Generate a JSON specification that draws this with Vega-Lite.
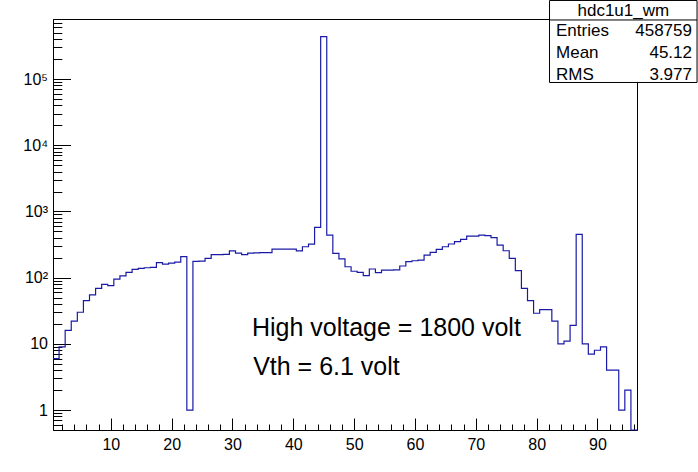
{
  "$schema": "https://vega.github.io/schema/vega-lite/v6.json",
  "width": 584,
  "height": 411,
  "autosize": "none",
  "padding": {"left": 53, "top": 19, "right": 61, "bottom": 42},
  "background": "white",
  "config": {
    "view": {"stroke": "#000000", "strokeWidth": 1},
    "font": "Liberation Sans",
    "axis": {"labelFont": "Liberation Sans", "labelColor": "#000000", "tickColor": "#000000", "domainColor": "#000000", "grid": false, "title": null, "labelFontSize": 16}
  },
  "datasets": {
    "hist": [
      {"edge": 0.5, "count": 6}, {"edge": 1.5, "count": 9}, {"edge": 2.5, "count": 16}, {"edge": 3.5, "count": 22},
      {"edge": 4.5, "count": 30}, {"edge": 5.5, "count": 45}, {"edge": 6.5, "count": 55}, {"edge": 7.5, "count": 69},
      {"edge": 8.5, "count": 79}, {"edge": 9.5, "count": 76}, {"edge": 10.5, "count": 95}, {"edge": 11.5, "count": 106},
      {"edge": 12.5, "count": 120}, {"edge": 13.5, "count": 133}, {"edge": 14.5, "count": 138}, {"edge": 15.5, "count": 141},
      {"edge": 16.5, "count": 143}, {"edge": 17.5, "count": 169}, {"edge": 18.5, "count": 160}, {"edge": 19.5, "count": 166},
      {"edge": 20.5, "count": 171}, {"edge": 21.5, "count": 207}, {"edge": 22.5, "count": 1}, {"edge": 23.5, "count": 176},
      {"edge": 24.5, "count": 178}, {"edge": 25.5, "count": 195}, {"edge": 26.5, "count": 222}, {"edge": 27.5, "count": 222},
      {"edge": 28.5, "count": 224}, {"edge": 29.5, "count": 254}, {"edge": 30.5, "count": 235}, {"edge": 31.5, "count": 222},
      {"edge": 32.5, "count": 234}, {"edge": 33.5, "count": 236}, {"edge": 34.5, "count": 238}, {"edge": 35.5, "count": 238},
      {"edge": 36.5, "count": 270}, {"edge": 37.5, "count": 270}, {"edge": 38.5, "count": 270}, {"edge": 39.5, "count": 270},
      {"edge": 40.5, "count": 254}, {"edge": 41.5, "count": 293}, {"edge": 42.5, "count": 320}, {"edge": 43.5, "count": 575},
      {"edge": 44.5, "count": 436000}, {"edge": 45.5, "count": 440}, {"edge": 46.5, "count": 233}, {"edge": 47.5, "count": 192},
      {"edge": 48.5, "count": 146}, {"edge": 49.5, "count": 125}, {"edge": 50.5, "count": 120}, {"edge": 51.5, "count": 107},
      {"edge": 52.5, "count": 135}, {"edge": 53.5, "count": 119}, {"edge": 54.5, "count": 130}, {"edge": 55.5, "count": 130},
      {"edge": 56.5, "count": 131}, {"edge": 57.5, "count": 150}, {"edge": 58.5, "count": 174}, {"edge": 59.5, "count": 180},
      {"edge": 60.5, "count": 184}, {"edge": 61.5, "count": 219}, {"edge": 62.5, "count": 241}, {"edge": 63.5, "count": 268},
      {"edge": 64.5, "count": 293}, {"edge": 65.5, "count": 322}, {"edge": 66.5, "count": 349}, {"edge": 67.5, "count": 379},
      {"edge": 68.5, "count": 425}, {"edge": 69.5, "count": 425}, {"edge": 70.5, "count": 440}, {"edge": 71.5, "count": 430},
      {"edge": 72.5, "count": 403}, {"edge": 73.5, "count": 310}, {"edge": 74.5, "count": 255}, {"edge": 75.5, "count": 196},
      {"edge": 76.5, "count": 128}, {"edge": 77.5, "count": 69}, {"edge": 78.5, "count": 45}, {"edge": 79.5, "count": 29},
      {"edge": 80.5, "count": 33}, {"edge": 81.5, "count": 33}, {"edge": 82.5, "count": 22}, {"edge": 83.5, "count": 10},
      {"edge": 84.5, "count": 11}, {"edge": 85.5, "count": 19}, {"edge": 86.5, "count": 451}, {"edge": 87.5, "count": 10},
      {"edge": 88.5, "count": 7}, {"edge": 89.5, "count": 8}, {"edge": 90.5, "count": 9}, {"edge": 91.5, "count": 4},
      {"edge": 92.5, "count": 4}, {"edge": 93.5, "count": 1}, {"edge": 94.5, "count": 2}, {"edge": 95.5, "count": 0},
      {"edge": 96.5, "count": 0}
    ],
    "one": [{}]
  },
  "layer": [
    {
      "layer": [
        {
          "data": {"name": "hist"},
          "mark": {"type": "line", "interpolate": "step-after", "color": "#1a1aa6", "strokeWidth": 1.2, "invalid": "show"},
          "encoding": {
            "x": {"field": "edge", "type": "quantitative",
                  "scale": {"domain": [0.5, 96.5], "nice": false, "zero": false},
                  "axis": {"orient": "bottom", "values": [10, 20, 30, 40, 50, 60, 70, 80, 90], "tickSize": -12, "labelPadding": 18, "domain": true}},
            "y": {"field": "count", "type": "quantitative",
                  "scale": {"type": "log", "domain": [0.5, 806000], "nice": false, "clamp": true},
                  "axis": {"orient": "left", "values": [1, 10, 100, 1000, 10000, 100000], "tickSize": -17.5, "labelPadding": 23,
                           "labelExpr": "datum.value == 1 ? '1' : datum.value == 10 ? '10' : datum.value == 100 ? '10²' : datum.value == 1000 ? '10³' : datum.value == 10000 ? '10⁴' : '10⁵'"}}
          }
        },
        {
          "data": {"name": "hist"},
          "mark": {"type": "line", "strokeOpacity": 0, "invalid": "show"},
          "encoding": {
            "x": {"field": "edge", "type": "quantitative",
                  "axis": {"orient": "bottom", "values": [2,4,6,8,12,14,16,18,22,24,26,28,32,34,36,38,42,44,46,48,52,54,56,58,62,64,66,68,72,74,76,78,82,84,86,88,92,94,96], "tickSize": -6, "labels": false, "domain": false}},
            "y": {"field": "count", "type": "quantitative",
                  "axis": {"orient": "left", "values": [0.5,0.6,0.7,0.8,0.9,2,3,4,5,6,7,8,9,20,30,40,50,60,70,80,90,200,300,400,500,600,700,800,900,2000,3000,4000,5000,6000,7000,8000,9000,20000,30000,40000,50000,60000,70000,80000,90000,200000,300000,400000,500000,600000,700000,800000], "tickSize": -8.8, "labels": false, "domain": false}}
          }
        }
      ],
      "resolve": {"axis": {"x": "independent", "y": "independent"}}
    },
    {
      "data": {"name": "one"},
      "encoding": {
        "y": {"type": "quantitative", "scale": {"type": "log", "domain": [0.5, 806000], "nice": false, "clamp": false}, "axis": null}
      },
      "layer": [
        {
          "mark": {"type": "text", "text": "High voltage = 1800 volt", "align": "left", "baseline": "alphabetic", "fontSize": 25, "font": "Liberation Sans", "color": "#000000"},
          "encoding": {"x": {"datum": 33.2, "type": "quantitative", "axis": null}, "y": {"datum": 13.1, "type": "quantitative", "scale": {"type": "log", "domain": [0.5, 806000], "nice": false}, "axis": null}}
        },
        {
          "mark": {"type": "text", "text": "Vth = 6.1 volt", "align": "left", "baseline": "alphabetic", "fontSize": 25, "font": "Liberation Sans", "color": "#000000"},
          "encoding": {"x": {"datum": 33.4, "type": "quantitative", "axis": null}, "y": {"datum": 3.38, "type": "quantitative", "axis": null}}
        },
        {
          "mark": {"type": "rect", "fill": "#ffffff", "stroke": "#000000", "strokeWidth": 1},
          "encoding": {"x": {"datum": 82.12, "type": "quantitative", "axis": null}, "x2": {"datum": 106.37},
                       "y": {"datum": 1535000, "type": "quantitative", "axis": null}, "y2": {"datum": 88600}}
        },
        {
          "mark": {"type": "rule", "stroke": "#000000", "strokeWidth": 1},
          "encoding": {"x": {"datum": 82.12, "type": "quantitative", "axis": null}, "x2": {"datum": 106.37},
                       "y": {"datum": 779000, "type": "quantitative", "axis": null}}
        },
        {
          "mark": {"type": "text", "text": "hdc1u1_wm", "align": "center", "baseline": "alphabetic", "fontSize": 17, "color": "#000000"},
          "encoding": {"x": {"datum": 94.25, "type": "quantitative", "axis": null}, "y": {"datum": 900000, "type": "quantitative", "axis": null}}
        },
        {
          "mark": {"type": "text", "text": "Entries", "align": "left", "baseline": "alphabetic", "fontSize": 17, "color": "#000000"},
          "encoding": {"x": {"datum": 83.19, "type": "quantitative", "axis": null}, "y": {"datum": 446000, "type": "quantitative", "axis": null}}
        },
        {
          "mark": {"type": "text", "text": "458759", "align": "right", "baseline": "alphabetic", "fontSize": 17, "color": "#000000"},
          "encoding": {"x": {"datum": 105.54, "type": "quantitative", "axis": null}, "y": {"datum": 446000, "type": "quantitative", "axis": null}}
        },
        {
          "mark": {"type": "text", "text": "Mean", "align": "left", "baseline": "alphabetic", "fontSize": 17, "color": "#000000"},
          "encoding": {"x": {"datum": 83.19, "type": "quantitative", "axis": null}, "y": {"datum": 208000, "type": "quantitative", "axis": null}}
        },
        {
          "mark": {"type": "text", "text": "45.12", "align": "right", "baseline": "alphabetic", "fontSize": 17, "color": "#000000"},
          "encoding": {"x": {"datum": 105.54, "type": "quantitative", "axis": null}, "y": {"datum": 208000, "type": "quantitative", "axis": null}}
        },
        {
          "mark": {"type": "text", "text": "RMS", "align": "left", "baseline": "alphabetic", "fontSize": 17, "color": "#000000"},
          "encoding": {"x": {"datum": 83.19, "type": "quantitative", "axis": null}, "y": {"datum": 96600, "type": "quantitative", "axis": null}}
        },
        {
          "mark": {"type": "text", "text": "3.977", "align": "right", "baseline": "alphabetic", "fontSize": 17, "color": "#000000"},
          "encoding": {"x": {"datum": 105.54, "type": "quantitative", "axis": null}, "y": {"datum": 96600, "type": "quantitative", "axis": null}}
        }
      ]
    }
  ],
  "resolve": {"scale": {"y": "independent"}, "axis": {"x": "independent", "y": "independent"}}
}
